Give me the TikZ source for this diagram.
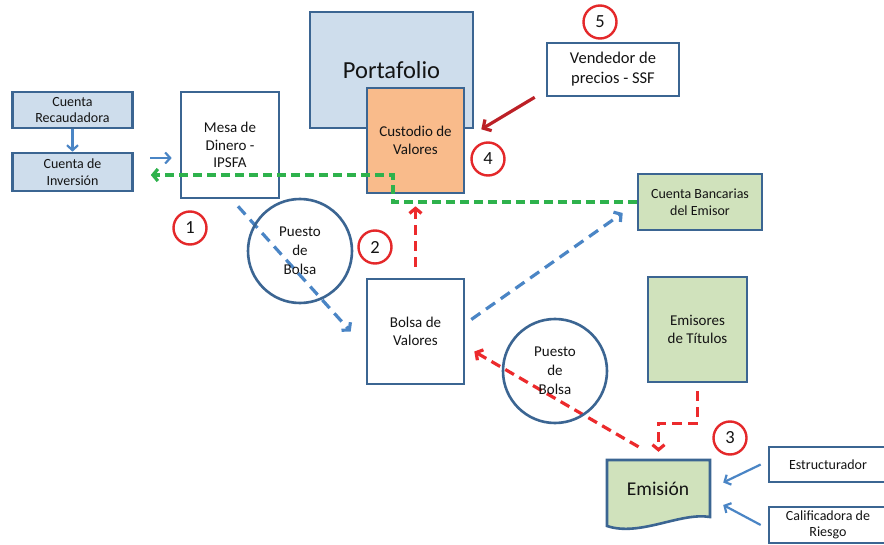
\documentclass[tikz,border=0pt]{standalone}
\usepackage{fontspec}
\setmainfont{Carlito}
\usetikzlibrary{arrows.meta,calc}
\definecolor{bord}{HTML}{3B6592}
\definecolor{lblue}{HTML}{CEDDEC}
\definecolor{orng}{HTML}{F9BB8B}
\definecolor{lgreen}{HTML}{D0E2BC}
\definecolor{redc}{HTML}{E4282A}
\definecolor{bluea}{HTML}{4A85C5}
\definecolor{redd}{HTML}{EC2A2C}
\definecolor{greend}{HTML}{2EB24C}
\definecolor{dred}{HTML}{BC2026}
\definecolor{txt}{HTML}{141414}
\tikzset{
  box/.style={draw=bord, line width=2.6pt, rectangle, align=center, text=txt, inner sep=1pt},
  pcirc/.style={draw=bord, line width=2.6pt, circle, minimum size=104pt, align=center, text=txt, inner sep=0pt,
    font=\fontsize{15}{19}\selectfont},
  num/.style={draw=redc, line width=2.4pt, circle, minimum size=33pt, inner sep=0pt, text=txt,
    font=\fontsize{18.5}{20}\selectfont},
  fsmall/.style={font=\fontsize{14}{16.5}\selectfont},
  fmed/.style={font=\fontsize{15}{17.5}\selectfont},
  bluesolid/.style={draw=bluea, line width=2.2pt, -{Straight Barb[length=5pt,width=11pt]}},
  bluedash/.style={draw=bluea, line width=3.2pt, dash pattern=on 11pt off 7pt, -{Straight Barb[length=5pt,width=12pt]}},
  reddash/.style={draw=redd, line width=3.2pt, dash pattern=on 10pt off 6pt, -{Straight Barb[length=5pt,width=12pt]}},
  greendash/.style={draw=greend, line width=3.2pt, dash pattern=on 9pt off 5pt, -{Straight Barb[length=5pt,width=12pt]}},
  darkredarr/.style={draw=dred, line width=3.2pt, -{Straight Barb[length=6pt,width=13pt]}},
}
\begin{document}
\begin{tikzpicture}[x=1pt,y=-1pt]
\useasboundingbox (0,0) rectangle (884,545);
\fill[white] (0,0) rectangle (884,545);

% left boxes
\node[box, fill=lblue, fsmall, minimum width=120pt, minimum height=36pt] (recaud) at (72.5,110) {Cuenta\\Recaudadora};
\node[box, fill=lblue, fsmall, minimum width=120pt, minimum height=38pt] (inv) at (72.5,172) {Cuenta de\\Inversión};
\node[box, fill=white, fmed, minimum width=98pt, minimum height=106pt] (mesa) at (230,145) {Mesa de\\Dinero -\\IPSFA};

% portafolio and custodio
\node[box, fill=lblue, font=\fontsize{24.5}{28}\selectfont, minimum width=163pt, minimum height=116pt] (port) at (391.5,70) {Portafolio};
\node[box, fill=orng, fmed, minimum width=97pt, minimum height=105pt] (cust) at (415.5,140.5) {Custodio de\\Valores};

% vendedor
\node[box, fill=white, font=\fontsize{16.5}{20}\selectfont, minimum width=132pt, minimum height=53pt] (vend) at (613,69.5) {Vendedor de\\precios - SSF};

% cuenta bancarias
\node[box, fill=lgreen, fsmall, minimum width=124pt, minimum height=56pt] (cbe) at (700,202) {Cuenta Bancarias\\del Emisor};

% bolsa
\node[box, fill=white, fmed, minimum width=97pt, minimum height=105pt] (bolsa) at (415.5,331.5) {Bolsa de\\Valores};

% emisores
\node[box, fill=lgreen, fmed, minimum width=99pt, minimum height=105pt] (emisores) at (697.5,329.5) {Emisores\\de Títulos};

% emision document shape
\path[fill=lgreen, draw=bord, line width=2.6pt] (607,460) -- (710,460) -- (710,517)
  .. controls (680,512) and (640,537) .. (607,526) -- cycle;
\node[rectangle, minimum width=103pt, minimum height=65pt, inner sep=0pt, text=txt,
  font=\fontsize{19.5}{22}\selectfont] (emision) at (658.5,492.5) {};
\node[text=txt, font=\fontsize{19.5}{22}\selectfont, inner sep=0pt] (emitxt) at (658,489) {Emisión};

% right clipped boxes
\node[box, fill=white, fsmall, minimum width=118pt, minimum height=35pt] (est) at (828,464.5) {Estructurador};
\node[box, fill=white, fsmall, minimum width=118pt, minimum height=36pt] (calif) at (828,525) {Calificadora de\\Riesgo};

% connectors under circles
\draw[bluedash] ($(mesa.south)+(8,7)$) -- ($(bolsa.west)+(-15,0)$);
\draw[reddash] ($(emision.north)+(-20,-13)$) -- ($(bolsa.east)+(9,20)$);

% puesto de bolsa circles (transparent)
\node[pcirc] (p1) at (300,251) {Puesto\\de\\Bolsa};
\node[pcirc] (p2) at (555,371) {Puesto\\de\\Bolsa};

% other connectors
\draw[bluesolid] (recaud.south) -- (inv.north);
\coordinate (fa) at (150,158);
\draw[bluesolid] (fa) -- ($(mesa.west)+(-8,13)$);
\coordinate (gc) at (393,175);
\draw[greendash] (cbe.west) -| (gc) -- ($(inv.east)+(17,3)$);
\draw[reddash] ($(bolsa.north)+(0,-11)$) -- ($(cust.south)+(0,12)$);
\draw[bluedash] ($(bolsa.east)+(6,-12)$) -- ($(cbe.west)+(-14,11)$);
\draw[reddash] ($(emisores.south)+(0,8)$) -- ++(0,32) -| ($(emision.north)+(0,-8)$);
\draw[darkredarr] ($(vend.south west)+(-11,0)$) -- ($(port.south east)+(7,0)$);
\draw[bluesolid] ($(est.west)+(-7,0)$) -- ($(emision.east)+(13,-10)$);
\draw[bluesolid] ($(calif.west)+(-7,0)$) -- ($(emision.east)+(13,12.5)$);

% number circles
\node[num] (n1) at (190,228) {1};
\node[num] (n2) at (375,247) {2};
\node[num] (n3) at (730,438) {3};
\node[num] (n4) at (488,159) {4};
\node[num] (n5) at (600,22) {5};
\end{tikzpicture}
\end{document}
